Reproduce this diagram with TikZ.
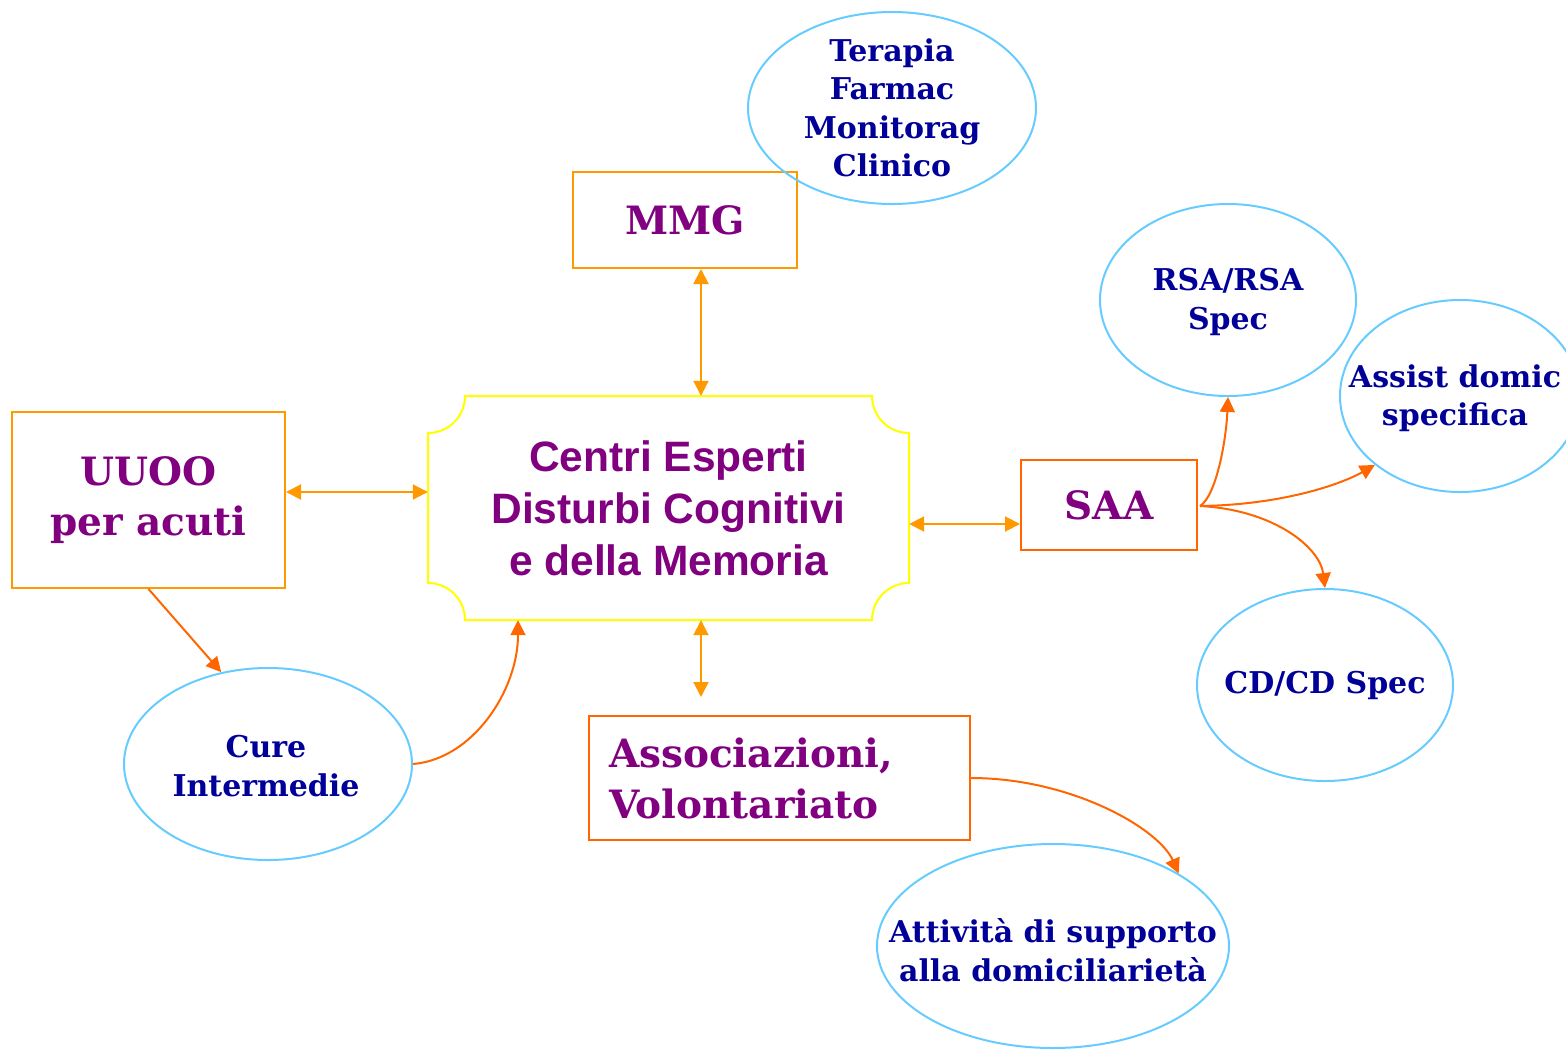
\documentclass[tikz,border=0pt]{standalone}
\usepackage{fontspec}
\usetikzlibrary{shapes.geometric,arrows.meta,calc}
\newfontfamily\bkfont{DejaVu Serif}
\newfontfamily\arfont{Liberation Sans}
\definecolor{purp}{HTML}{800080}
\definecolor{navy}{HTML}{000099}
\definecolor{oraA}{HTML}{FF9900}
\definecolor{oraB}{HTML}{FF6600}
\definecolor{lblue}{HTML}{66CCFF}
\definecolor{yel}{HTML}{FFFF00}
\tikzset{
  boxA/.style={draw=oraA, line width=2pt, rectangle, inner sep=0pt, text=purp, font=\bkfont\bfseries\fontsize{39}{51}\selectfont, align=center},
  boxB/.style={draw=oraB, line width=2pt, rectangle, inner sep=0pt, text=purp, font=\bkfont\bfseries\fontsize{39}{51}\selectfont, align=center},
  ell/.style={draw=lblue, line width=2pt, ellipse, inner sep=0pt},
  etext/.style={text=navy, font=\bkfont\bfseries\fontsize{30}{38.5}\selectfont, align=center, inner sep=0pt},
  dbl/.style={draw=oraA, line width=2pt, {Triangle[length=15pt,width=15pt]}-{Triangle[length=15pt,width=15pt]}},
  one/.style={draw=oraB, line width=2pt, -{Triangle[length=15pt,width=15pt]}},
}
\begin{document}
\begin{tikzpicture}[x=1pt,y=-1pt]
\useasboundingbox (0,0) rectangle (1566,1050);

% center shape
\node[inner sep=0pt, minimum width=481pt, minimum height=224pt, text=purp,
      font=\arfont\bfseries\fontsize{42.5}{52}\selectfont, align=center] (cen) at (668.5,508)
      {Centri Esperti\\Disturbi Cognitivi\\ e della Memoria};
\draw[yel, line width=2pt]
  (465,396) -- (872,396) arc[start angle=180, end angle=90, radius=37]
  -- (909,583) arc[start angle=270, end angle=180, radius=37]
  -- (465,620) arc[start angle=0, end angle=-90, radius=37]
  -- (428,433) arc[start angle=90, end angle=0, radius=37] -- cycle;

% boxes
\node[boxA, minimum width=224pt, minimum height=96pt] (mmg) at (685,220) {MMG};
\node[boxA, minimum width=273pt, minimum height=176pt] (uu) at (148.5,500) {\raisebox{14pt}{\begin{tabular}{@{}c@{}}UUOO\\[-1pt]per acuti\end{tabular}}};
\node[boxB, minimum width=176pt, minimum height=90pt] (saa) at (1109,505) {SAA};
\node[boxB, minimum width=381pt, minimum height=124pt, align=left, text width=341pt,
      inner xsep=20pt] (ass) at (779.5,778) {Associazioni,\\Volontariato};

% ellipses
\node[ell, minimum width=288pt, minimum height=192pt] (ter) at (892,108) {};
\node[etext] at (ter) {Terapia\\Farmac\\Monitorag\\Clinico};
\node[ell, minimum width=256pt, minimum height=192pt] (rsa) at (1228,300) {};
\node[etext] at (1228,302) {RSA/RSA\\Spec};
\node[ell, minimum width=240pt, minimum height=192pt] (asd) at (1460,396) {};
\node[etext] at (1455,398) {Assist domic\\specifica};
\node[ell, minimum width=256pt, minimum height=192pt] (cd) at (1325,685) {};
\node[etext] at (cd) {CD/CD Spec};
\node[ell, minimum width=288pt, minimum height=192pt] (cure) at (268,764) {};
\node[etext] at (266,766) {Cure\\Intermedie};
\node[ell, minimum width=352pt, minimum height=204pt] (att) at (1053,946) {};
\node[etext] at (1053,950) {Attività di supporto\\alla domiciliarietà};

% double connectors
\draw[dbl] ($(mmg.south)+(16,0)$) -- ($(cen.north)+(32.5,0)$);
\draw[dbl] ($(uu.east)+(0,-8)$) -- ($(cen.west)+(0,-16)$);
\draw[dbl] ($(cen.east)+(0,16)$) -- ($(saa.west)+(0,19)$);
\draw[dbl] ($(cen.south)+(32.5,0)$) -- ($(ass.north)+(-78.5,-18)$);

% single connectors
\draw[one] (uu.south) -- (cure.117);
\draw[one] (cure.east) .. controls +(60,-5) and +(0,70) .. ($(cen.south)+(-150.5,0)$);
\draw[one] ($(saa.east)+(2,1)$) .. controls +(16,-10) and +(-2,45) .. (rsa.south);
\draw[one] ($(saa.east)+(2,1)$) .. controls +(80,-1) and +(-35,20) .. (asd.219);
\draw[one] ($(saa.east)+(2,1)$) .. controls +(75,4) and +(-5,-40) .. (cd.north);
\draw[one] (ass.east) .. controls +(100,0) and +(-20,-45) .. (att.30);
\end{tikzpicture}
\end{document}
